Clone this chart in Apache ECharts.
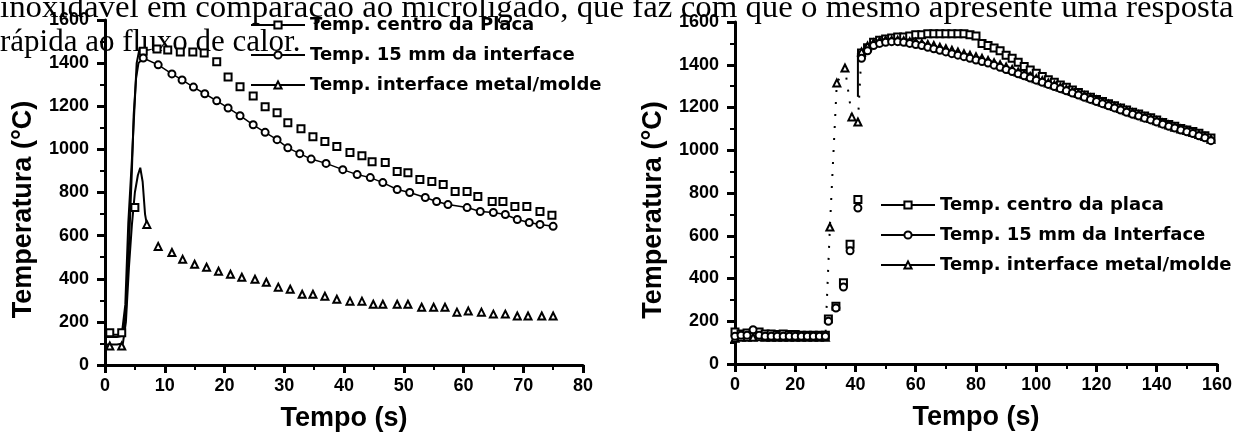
<!DOCTYPE html>
<html>
<head>
<meta charset="utf-8">
<script src="https://cdn.jsdelivr.net/npm/echarts@6/dist/echarts.min.js"></script>
<style>
  html, body { margin: 0; padding: 0; background: #fff; }
  #chart { width: 1235px; height: 437px; }
</style>
</head>
<body>
<div id="chart"></div>
<script>
// texto do parágrafo (cortado no topo da imagem)
const textLines = [
  "inoxidável em comparação ao microligado, que faz com que o mesmo apresente uma resposta mais",
  "rápida ao fluxo de calor."
]

const leftNames = ["Temp. centro da Placa", "Temp. 15 mm da interface", "Temp. interface metal/molde"]
const rightNames = ["Temp. centro da placa", "Temp. 15 mm da Interface", "Temp. interface metal/molde"]

// ---- grafico da esquerda (0-80 s)
// subida (so linha)
const leftRiseTimeCentro = [0, 1, 2, 2.8, 3.4, 3.9, 4.5, 5.3, 5.8, 6.4]
const leftRiseCentro = [140, 140, 140, 140, 280, 660, 950, 1400, 1470, 1455]
const leftRiseTime15 = [0, 1, 2, 3.0, 3.5, 4.0, 4.5, 4.8, 5.2, 5.6, 6.4]
const leftRise15 = [130, 130, 130, 135, 250, 550, 900, 1160, 1330, 1400, 1424]
const leftRiseTimeIface = [0, 1, 2, 3.0, 3.5, 4.0, 4.5, 5.0, 5.5, 5.9, 6.3, 6.7, 7.0]
const leftRiseIface = [95, 95, 95, 100, 200, 450, 650, 800, 880, 915, 850, 700, 652]

// pontos
const leftTimeCentro = [0.8, 2.8, 5.0, 6.4, 8.7, 10.5, 12.6, 14.7, 16.6, 18.7, 20.6, 22.6, 24.8, 26.8, 28.8, 30.6, 32.8, 34.8, 36.8, 38.8, 41.0, 43.0, 44.7, 46.9, 48.9, 50.7, 52.7, 54.7, 56.6, 58.6, 60.6, 62.4, 64.8, 66.6, 68.6, 70.6, 72.8, 74.8]
const leftTempCentro = [150, 150, 730, 1455, 1466, 1461, 1452, 1452, 1447, 1406, 1336, 1290, 1248, 1198, 1170, 1124, 1096, 1059, 1036, 1013, 985, 971, 943, 939, 897, 892, 860, 851, 837, 805, 805, 782, 758, 758, 735, 735, 712, 694]
const leftTime15 = [6.4, 8.9, 11.2, 12.9, 14.8, 16.7, 18.7, 20.6, 22.6, 24.8, 26.8, 28.8, 30.6, 32.6, 34.5, 37.0, 39.8, 42.2, 44.4, 46.5, 48.9, 51.0, 53.6, 55.5, 57.4, 60.6, 62.8, 65.0, 67.0, 69.0, 71.0, 72.8, 75.0]
const leftTemp15 = [1424, 1392, 1350, 1322, 1289, 1258, 1225, 1192, 1156, 1114, 1079, 1045, 1007, 980, 955, 935, 906, 883, 869, 846, 814, 800, 777, 758, 744, 730, 712, 707, 698, 675, 661, 652, 643]
const leftTimeIface = [0.8, 2.8, 7.0, 8.9, 11.2, 13.0, 15.0, 17.0, 19.0, 21.0, 22.9, 25.1, 27.0, 29.0, 31.0, 33.0, 34.8, 36.8, 38.8, 41.0, 43.0, 44.9, 46.5, 48.9, 50.7, 53.0, 55.0, 56.9, 58.9, 60.8, 63.0, 65.0, 67.0, 69.0, 70.8, 73.1, 75.0]
const leftTempIface = [88, 88, 652, 550, 522, 490, 467, 453, 435, 421, 407, 398, 384, 361, 351, 328, 328, 319, 305, 296, 296, 282, 282, 282, 282, 268, 268, 268, 245, 250, 245, 236, 236, 227, 227, 227, 227]

// ---- grafico da direita (0-160 s)
const rightTimeCentro = [0, 2, 4, 6, 8, 10, 12, 14, 16, 18, 20, 22, 24, 26, 28, 30, 31, 33.5, 36, 38.2, 40.8,
  42, 44, 46, 48, 50, 52, 54, 56, 58, 60, 62, 64, 66, 68, 70, 72, 74, 76, 78, 80,
  82, 84, 86, 88, 90, 92, 94, 96, 98, 100, 102, 104, 106, 108, 110, 112, 114, 116, 118, 120,
  122, 124, 126, 128, 130, 132, 134, 136, 138, 140, 142, 144, 146, 148, 150, 152, 154, 156, 158]
const rightTempCentro = [150, 140, 145, 140, 150, 140, 140, 138, 140, 138, 138, 135, 135, 135, 135, 135, 210, 270, 380, 560, 770,
  1455, 1480, 1505, 1515, 1520, 1525, 1530, 1530, 1535, 1540, 1540, 1545, 1545, 1545, 1545, 1545, 1545, 1545, 1540, 1535,
  1500, 1490, 1478, 1465, 1445, 1430, 1412, 1392, 1375, 1360, 1345, 1330, 1318, 1305, 1295, 1282, 1270, 1258, 1248, 1238,
  1228, 1218, 1208, 1198, 1188, 1178, 1170, 1160, 1152, 1142, 1130, 1120, 1112, 1102, 1095, 1088, 1080, 1068, 1057]
const rightTime15 = [0, 2, 4, 6, 8, 10, 12, 14, 16, 18, 20, 22, 24, 26, 28, 30, 31, 33.5, 36, 38.2, 40.8,
  42, 44, 46, 48, 50, 52, 54, 56, 58, 60, 62, 64, 66, 68, 70, 72, 74, 76, 78, 80,
  82, 84, 86, 88, 90, 92, 94, 96, 98, 100, 102, 104, 106, 108, 110, 112, 114, 116, 118, 120,
  122, 124, 126, 128, 130, 132, 134, 136, 138, 140, 142, 144, 146, 148, 150, 152, 154, 156, 158]
const rightTemp15 = [130, 135, 135, 160, 135, 130, 130, 130, 130, 130, 130, 130, 130, 130, 130, 130, 200, 262, 360, 530, 730,
  1430, 1465, 1490, 1500, 1505, 1508, 1508, 1505, 1500, 1495, 1490, 1482, 1475, 1468, 1460, 1452, 1445, 1438, 1430, 1422,
  1415, 1408, 1398, 1388, 1378, 1368, 1358, 1348, 1338, 1328, 1318, 1308, 1298, 1288, 1278, 1268, 1258, 1248, 1238, 1228,
  1218, 1208, 1198, 1188, 1178, 1168, 1160, 1150, 1142, 1132, 1122, 1112, 1104, 1095, 1086, 1078, 1068, 1058, 1045]
const rightTimeIface = [0, 2, 4, 6, 8, 10, 12, 14, 16, 18, 20, 22, 24, 26, 28, 30, 31.5, 33.8, 36.5, 38.8, 40.8,
  42, 44, 46, 48, 50, 52, 54, 56, 58, 60, 62, 64, 66, 68, 70, 72, 74, 76, 78, 80,
  82, 84, 86, 88, 90, 92, 94, 96, 98, 100, 102, 104, 106, 108, 110, 112, 114, 116, 118, 120,
  122, 124, 126, 128, 130, 132, 134, 136, 138, 140, 142, 144, 146, 148, 150, 152, 154, 156, 158]
const rightTempIface = [120, 125, 125, 125, 128, 125, 125, 125, 125, 125, 125, 125, 125, 125, 125, 125, 641, 1315, 1385, 1156, 1132,
  1460, 1488, 1502, 1510, 1515, 1515, 1515, 1512, 1508, 1505, 1500, 1495, 1490, 1482, 1475, 1468, 1460, 1452, 1445, 1438,
  1430, 1420, 1410, 1400, 1390, 1378, 1366, 1355, 1345, 1335, 1325, 1315, 1305, 1295, 1285, 1275, 1265, 1255, 1245, 1235,
  1225, 1215, 1205, 1195, 1185, 1175, 1166, 1156, 1148, 1138, 1128, 1118, 1108, 1100, 1092, 1083, 1074, 1064, 1052]
// traço vertical em ~41 s
const jumpTime = [40.8, 40.8]
const jumpTemp = [1250, 1455]

const pairs = (xs, ys) => xs.map((x, i) => [x, ys[i]])

const myChart = echarts.init(document.getElementById("chart"))

const black = "#000"
const tickFont = { color: black, fontFamily: "Liberation Sans", fontWeight: "bold", fontSize: 18 }
const nameFont = { color: black, fontFamily: "Liberation Sans", fontWeight: "bold", fontSize: 27 }

const makeX = (grid, max, interval) => ({
  type: "value",
  gridIndex: grid,
  min: 0,
  max: max,
  interval: interval,
  name: "Tempo (s)",
  nameLocation: "middle",
  nameGap: 40,
  nameTextStyle: nameFont,
  axisLine: { onZero: false, lineStyle: { color: black, width: 3 } },
  axisTick: { length: 8, lineStyle: { color: black, width: 3 } },
  minorTick: { show: true, splitNumber: 2, length: 5, lineStyle: { color: black, width: 2 } },
  splitLine: { show: false },
  axisLabel: { ...tickFont, margin: 12, formatter: (v) => String(v) }
})

const makeY = (grid) => ({
  type: "value",
  gridIndex: grid,
  min: 0,
  max: 1600,
  interval: 200,
  name: "Temperatura (°C)",
  nameLocation: "middle",
  nameGap: 68,
  nameTextStyle: { ...nameFont, padding: [0, 34, 0, 0] },
  axisLine: { onZero: false, lineStyle: { color: black, width: 3 } },
  axisTick: { length: 8, lineStyle: { color: black, width: 3 } },
  minorTick: { show: true, splitNumber: 2, length: 5, lineStyle: { color: black, width: 2 } },
  splitLine: { show: false },
  axisLabel: { ...tickFont, margin: 16, formatter: (v) => String(v) }
})

const riseLine = (x, y, xs, ys) => ({
  type: "line",
  xAxisIndex: x,
  yAxisIndex: y,
  data: pairs(xs, ys),
  symbol: "none",
  lineStyle: { color: black, width: 2 },
  silent: true,
  z: 2
})

const marks = (name, x, symbol, xs, ys, lineWidth, lineType) => ({
  name: name,
  type: "line",
  xAxisIndex: x,
  yAxisIndex: x,
  data: pairs(xs, ys),
  symbol: symbol,
  symbolSize: 7,
  showAllSymbol: true,
  itemStyle: { color: black, borderColor: black, borderWidth: 2 },
  lineStyle: { color: black, width: lineWidth, type: lineType || "solid" },
  silent: true,
  z: 3
})

const legendCommon = {
  orient: "vertical",
  itemWidth: 54,
  itemHeight: 9,
  itemGap: 10,
  padding: 0,
  selectedMode: false,
  lineStyle: { color: black, width: 2, type: "solid" },
  textStyle: { color: black, fontFamily: "DejaVu Sans", fontWeight: "bold", fontSize: 18, lineHeight: 20 }
}

let option = {
  backgroundColor: "#fff",
  animation: false,
  graphic: [
    {
      type: "text", x: 0, y: 9, scaleX: 1.06,
      style: { text: textLines[0], font: '31px "Liberation Serif"', fill: black, verticalAlign: "middle" }
    },
    {
      type: "text", x: 0, y: 43,
      style: { text: textLines[1], font: '31px "Liberation Serif"', fill: black, verticalAlign: "middle" }
    }
  ],
  grid: [
    { left: 105, top: 20, width: 478, height: 346 },
    { left: 735, top: 22, width: 482, height: 342 }
  ],
  xAxis: [makeX(0, 80, 10), makeX(1, 160, 20)],
  yAxis: [makeY(0), makeY(1)],
  legend: [
    { ...legendCommon, data: leftNames, left: 250, top: 15 },
    { ...legendCommon, data: rightNames, left: 880, top: 195 }
  ],
  series: [
    riseLine(0, 0, leftRiseTimeCentro, leftRiseCentro),
    riseLine(0, 0, leftRiseTime15, leftRise15),
    riseLine(0, 0, leftRiseTimeIface, leftRiseIface),
    marks(leftNames[0], 0, "emptyRect", leftTimeCentro, leftTempCentro, 0),
    marks(leftNames[1], 0, "emptyCircle", leftTime15, leftTemp15, 1.5),
    marks(leftNames[2], 0, "emptyTriangle", leftTimeIface, leftTempIface, 0),
    riseLine(1, 1, jumpTime, jumpTemp),
    marks(rightNames[0], 1, "emptyRect", rightTimeCentro, rightTempCentro, 0),
    marks(rightNames[2], 1, "emptyTriangle", rightTimeIface, rightTempIface, 2, [2, 10]),
    marks(rightNames[1], 1, "emptyCircle", rightTime15, rightTemp15, 0)
  ]
}

myChart.setOption(option)
window.addEventListener("resize", () => {
  myChart.resize()
})
</script>
</body>
</html>
